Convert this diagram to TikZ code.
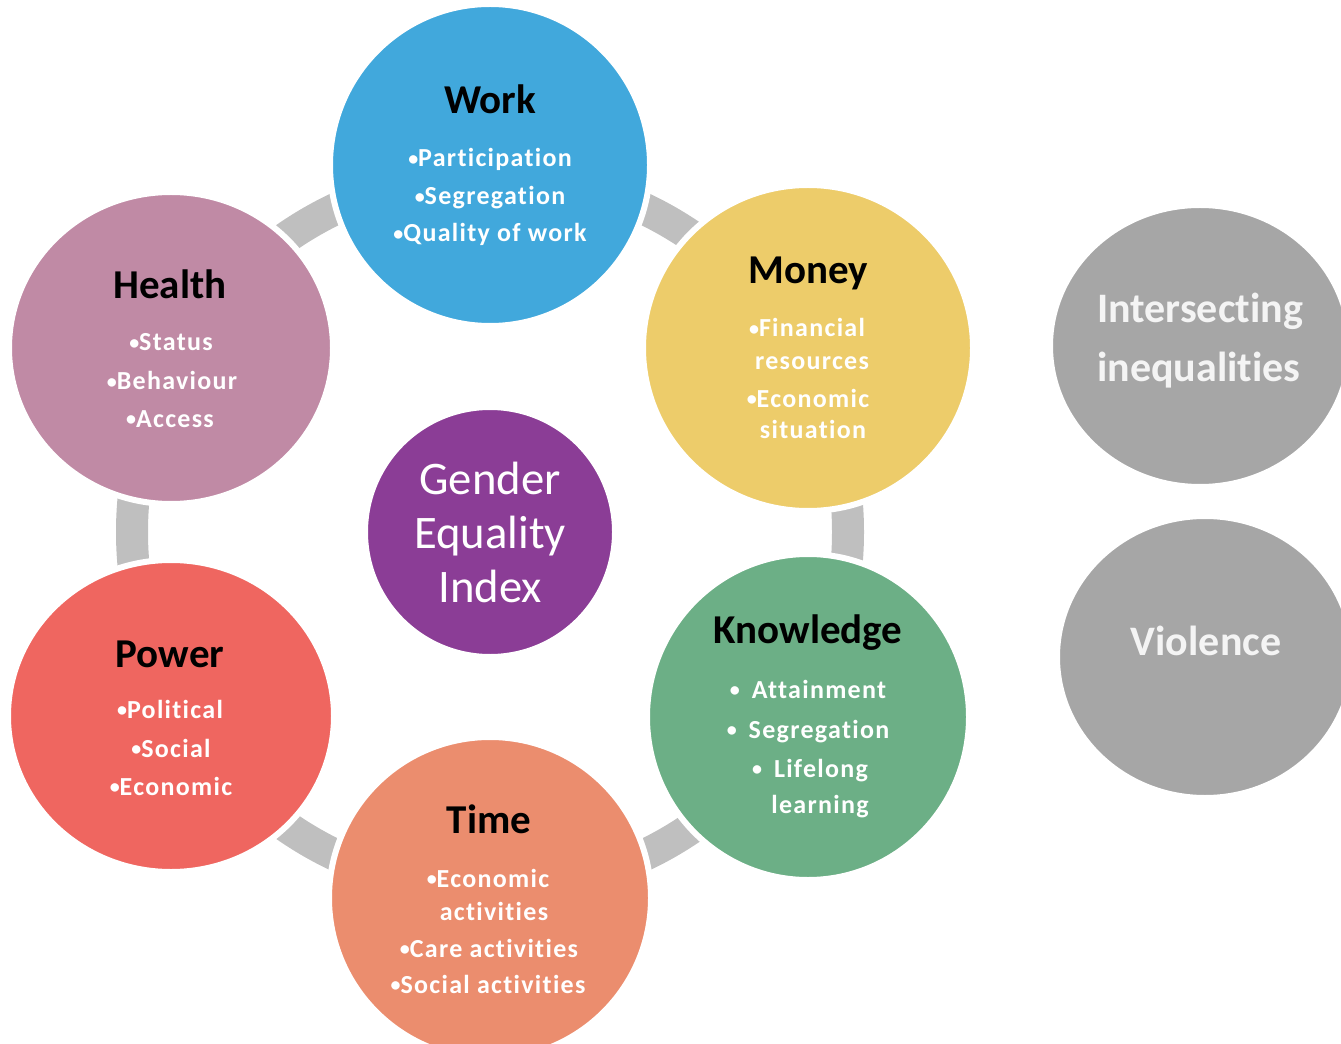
\documentclass[tikz,border=0pt]{standalone}
\usepackage{fontspec}
\setmainfont{Carlito}[Ligatures=NoCommon]
\newfontfamily\itemfont{Carlito}[Ligatures=NoCommon, LetterSpace=5]
\usepackage{tikz}
\usetikzlibrary{positioning, calc, shapes.geometric}

\definecolor{workblue}{HTML}{41A8DC}
\definecolor{moneyyellow}{HTML}{EDCC6A}
\definecolor{knowgreen}{HTML}{6CAF86}
\definecolor{timeorange}{HTML}{EB8D6E}
\definecolor{powerred}{HTML}{EF6660}
\definecolor{healthmauve}{HTML}{C08AA5}
\definecolor{geipurple}{HTML}{8B3D96}
\definecolor{greydisc}{HTML}{A6A6A6}
\definecolor{ringgrey}{HTML}{BFBFBF}
\definecolor{softwhite}{HTML}{F4F4F4}

% small bullet
\def\bul{{\fontsize{15}{15}\selectfont\raisebox{0.2ex}{•}}}

\tikzset{
    disc/.style={ellipse, draw=white, line width=4.5pt, inner sep=0pt},
    head/.style={font=\bfseries\fontsize{30.75}{36}\selectfont, anchor=base},
    item/.style={font=\itemfont\bfseries\fontsize{19.5}{24}\selectfont, text=white, anchor=base},
    core/.style={font=\fontsize{35}{40}\selectfont, text=white, anchor=base},
    side/.style={font=\bfseries\fontsize{31.5}{36}\selectfont, text=softwhite, anchor=base}
}

\begin{document}
\begin{tikzpicture}[x=0.75pt, y=-0.75pt]
    \useasboundingbox (0,0) rectangle (1341,1044);
    \clip (0,0) rectangle (1341,1044);

    % grey ring behind the domains
    \draw[ringgrey, line width=24pt] (490,532) circle (358);

    % discs
    \foreach \name/\cx/\cy/\rx/\ry/\col in {
        work/490/165/157/158/workblue,
        money/808/348/162/160/moneyyellow,
        know/808/717/158/160/knowgreen,
        time/490/898/158/158/timeorange,
        power/171/716/160/153/powerred,
        health/171/348/159/153/healthmauve,
        gei/490/532/122/122/geipurple,
        inter/1200/346/147/138/greydisc,
        viol/1205/657/145/138/greydisc}{

        \node[disc, fill=\col, minimum width={(2*\rx+6)*0.75pt},
            minimum height={(2*\ry+6)*0.75pt}] (\name) at (\cx,\cy) {};
    }

    % domain titles
    \foreach \name/\txt/\tx/\ty in {
        work/Work/490/114,
        money/Money/808/284,
        know/Knowledge/808/643,
        time/Time/489/833,
        power/Power/170/667,
        health/Health/170/299}{

        \node[head] (\name-head) at (\tx,\ty) {\txt};
    }

    % sub-domains
    \foreach \name/\txt/\tx/\ty in {
        work1/\bul Participation/490/167,
        work2/\bul Segregation/490/205,
        work3/\bul Quality of work/490/242,
        money1/\bul Financial/807/337,
        money2/resources/812/370,
        money3/\bul Economic/808/407,
        money4/situation/813/439,
        know1/\bul\hskip9pt Attainment/808/698,
        know2/\bul\hskip9pt Segregation/808/738,
        know3/\bul\hskip9pt Lifelong/810/777,
        know4/learning/820/813,
        time1/\bul Economic/488/887,
        time2/activities/494/920,
        time3/\bul Care activities/489/957,
        time4/\bul Social activities/488/993,
        power1/\bul Political/170/718,
        power2/\bul Social/171/757,
        power3/\bul Economic/171/795,
        health1/\bul Status/171/351,
        health2/\bul Behaviour/172/390,
        health3/\bul Access/170/427}{

        \node[item] (\name) at (\tx,\ty) {\txt};
    }

    % centre and side discs
    \node[core] (gei1) at (490,494) {Gender};
    \node[core] (gei2) at (490,548) {Equality};
    \node[core] (gei3) at (490,602) {Index};
    \node[side] (inter1) at (1200,323) {Intersecting};
    \node[side] (inter2) at (1199,382) {inequalities};
    \node[side] (viol1) at (1206,655) {Violence};
\end{tikzpicture}
\end{document}
